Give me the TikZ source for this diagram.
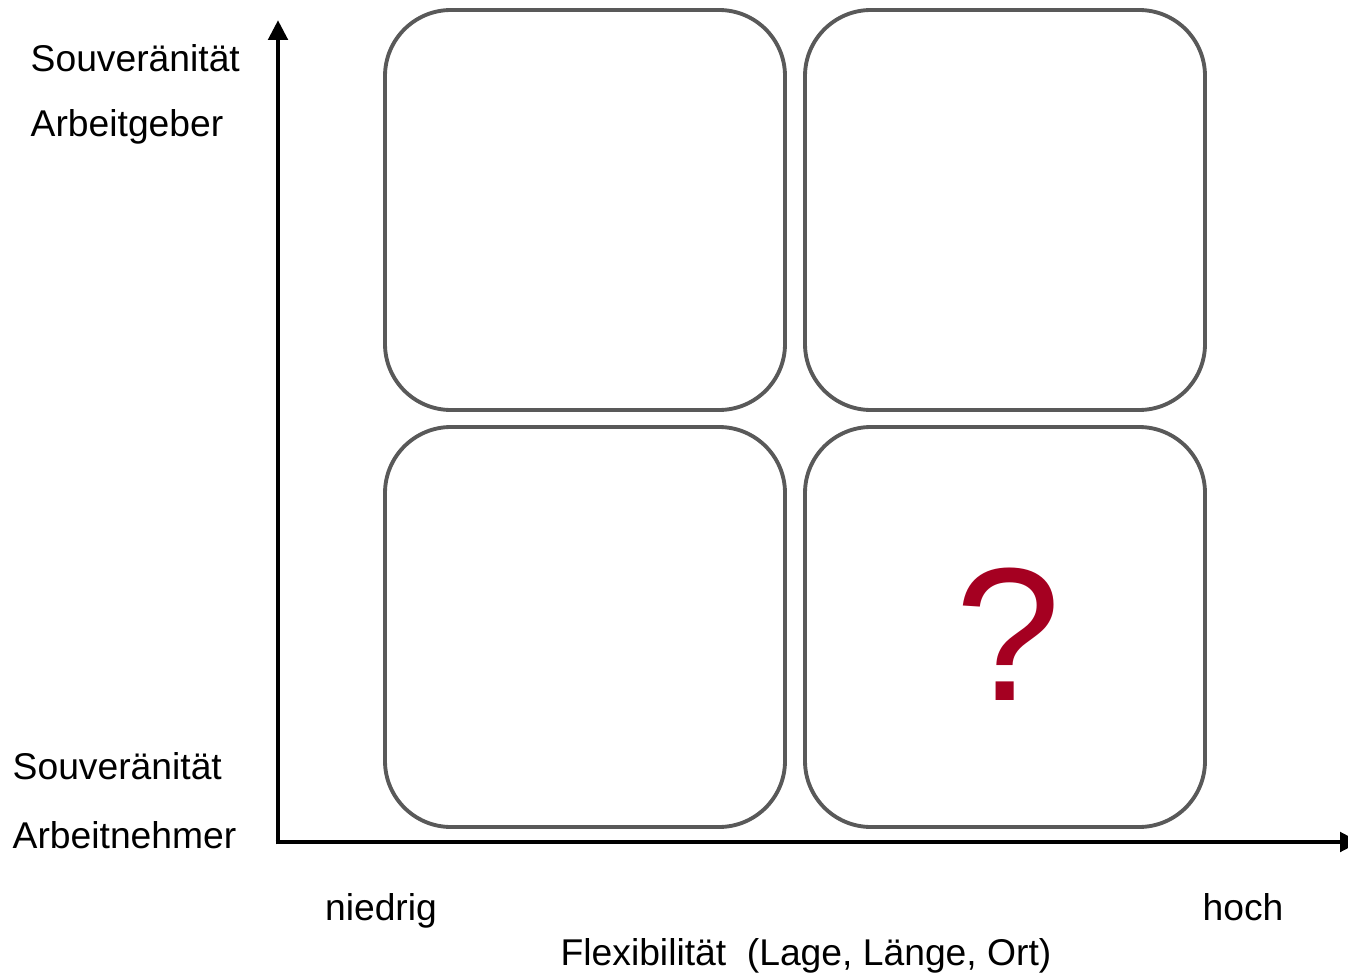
\documentclass[tikz,border=0pt]{standalone}
\usepackage{fontspec}
\setmainfont{Liberation Sans}
\usetikzlibrary{arrows.meta}
\definecolor{boxgray}{HTML}{595959}
\definecolor{qred}{HTML}{A50021}
\tikzset{
    quadnode/.style = {rectangle, rounded corners=0.66cm, line width=1.1pt, draw=boxgray, minimum width=4cm, minimum height=4cm, inner sep=0pt},
    labnode/.style = {anchor=west, inner sep=0pt, font=\fontsize{10.6}{12}\selectfont, text=black},
    ticknode/.style = {anchor=base, inner sep=0pt, font=\fontsize{10.6}{12}\selectfont, text=black},
    qnode/.style = {inner sep=0pt, font=\fontsize{54}{60}\selectfont, text=qred},
    axisn/.style = {line width=1.4pt, black, -{Triangle[length=0.2cm, width=0.19cm]}}
}
\begin{document}
\begin{tikzpicture}
\useasboundingbox (0,0) rectangle (13.48,-9.76);
%
\node[quadnode] at (5.85,-2.10) (q11) {};
\node[quadnode] at (10.05,-2.10) (q12) {};
\node[quadnode] at (5.85,-6.27) (q21) {};
\node[quadnode] at (10.05,-6.27) (q22) {};
\node[qnode] at (10.08,-6.34) (qm) {?};
%
\coordinate (O) at (2.78,-8.42);
\coordinate (ytip) at (2.78,-0.20);
\coordinate (xtip) at (13.60,-8.42);
\draw[axisn] ([yshift=-0.7pt]O) -- (ytip);
\draw[axisn] ([xshift=-0.7pt]O) -- (xtip);
%
\node[labnode] at (0.30,-0.58) (ag1) {Souveränität};
\node[labnode] at (0.30,-1.27) (ag2) {Arbeitgeber};
\node[labnode] at (0.12,-7.66) (an1) {Souveränität};
\node[labnode] at (0.12,-8.35) (an2) {Arbeitnehmer};
%
\node[ticknode] at (3.81,-9.20) (lo) {niedrig};
\node[ticknode] at (12.43,-9.20) (hi) {hoch};
\node[ticknode] at (8.06,-9.65) (xl) {Flexibilität\ \ (Lage, Länge, Ort)};
\end{tikzpicture}
\end{document}
